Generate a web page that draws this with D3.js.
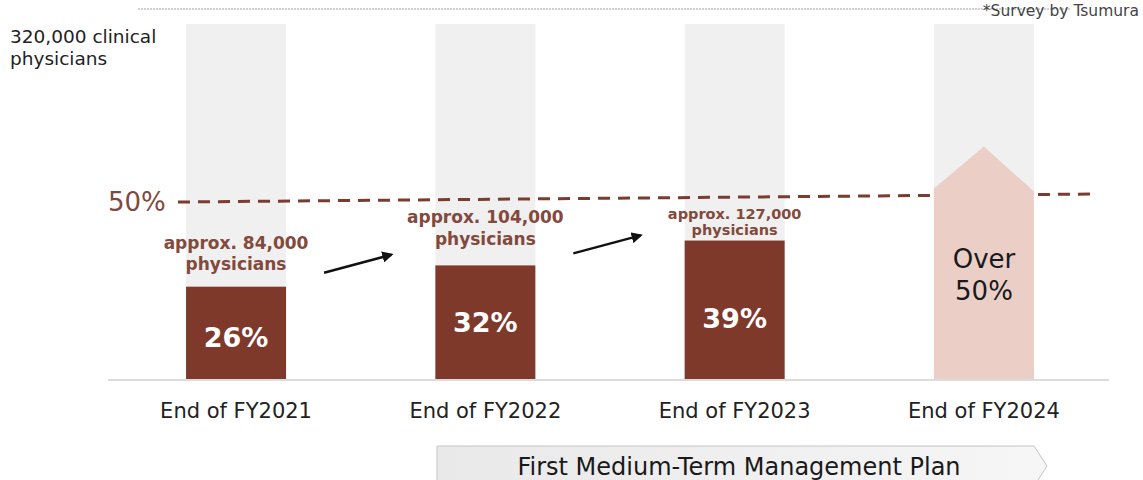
<!DOCTYPE html>
<html>
<head>
<meta charset="utf-8">
<script src="https://cdn.jsdelivr.net/npm/d3@7/dist/d3.min.js"></script>
<style>
  html, body { margin: 0; padding: 0; background: #fff; }
  svg { display: block; font-family: "DejaVu Sans", Verdana, sans-serif; }
</style>
</head>
<body>
<svg id="chart" width="1143" height="480"></svg>
<script>
// Share of clinical physicians prescribing Kampo, by fiscal year end
const categories = ["End of FY2021", "End of FY2022", "End of FY2023", "End of FY2024"];
const sharePct = [26, 32, 39];            // achieved share (%)
const targetPct = 50;                     // FY2024 target ("Over 50%")
const physicianCounts = ["approx. 84,000", "approx. 104,000", "approx. 127,000"];
const totalLabel = ["320,000 clinical", "physicians"];
const targetLabel = ["Over", "50%"];
const planLabel = "First Medium-Term Management Plan";
const sourceNote = "*Survey by Tsumura";

// styling
const DARK = "#7e392b";
const BROWN_TEXT = "#83493c";
const PINK = "#ebcfc7";
const BG_BAR = "#f0f0f0";
const countFont = [17, 17, 14.5];
const countLineGap = [21, 22, 16];
const countLift = [17, 20, 6];
const pctNudge = [4, 0, 8];

const svg = d3.select("#chart");

const x = d3.scalePoint().domain(categories).range([111.4, 1108.6]).padding(0.5);
const y = d3.scaleLinear().domain([0, 100]).range([379, 24]);
const barW = 100;

// source rule + note
svg.append("line")
  .attr("x1", 138).attr("x2", 1070).attr("y1", 9).attr("y2", 9)
  .attr("stroke", "#a0a0a0").attr("stroke-width", 1).attr("stroke-dasharray", "2,1");
svg.append("text")
  .attr("x", 1139).attr("y", 16).attr("text-anchor", "end")
  .attr("font-size", 15.5).attr("fill", "#444").text(sourceNote);

// total population label
svg.append("text").attr("x", 10).attr("y", 43).attr("font-size", 18.5).attr("fill", "#222")
  .selectAll("tspan").data(totalLabel).join("tspan")
  .attr("x", 10).attr("dy", (d, i) => i ? 22 : 0).text(d => d);

// 100% background columns
svg.append("g").selectAll("rect").data(categories).join("rect")
  .attr("x", d => x(d) - barW / 2).attr("width", barW)
  .attr("y", y(100)).attr("height", y(0) - y(100))
  .attr("fill", BG_BAR);

// baseline
svg.append("line")
  .attr("x1", 108).attr("x2", 1109).attr("y1", y(0) + 1).attr("y2", y(0) + 1)
  .attr("stroke", "#dcdcdc").attr("stroke-width", 2);

// 50% target line
svg.append("line")
  .attr("x1", 178).attr("x2", 1094)
  .attr("y1", y(targetPct) + 0.5).attr("y2", y(targetPct) - 7.5)
  .attr("stroke", "#7b3c2f").attr("stroke-width", 3).attr("stroke-dasharray", "12,8");
svg.append("text")
  .attr("x", 108).attr("y", y(targetPct) + 9)
  .attr("font-size", 26).attr("fill", "#7f4a3e").text(targetPct + "%");

// achieved bars
const gBars = svg.append("g");
gBars.selectAll("rect").data(sharePct).join("rect")
  .attr("x", (d, i) => x(categories[i]) - barW / 2).attr("width", barW)
  .attr("y", d => y(d)).attr("height", d => y(0) - y(d))
  .attr("fill", DARK);

gBars.selectAll("text.pct").data(sharePct).join("text").attr("class", "pct")
  .attr("x", (d, i) => x(categories[i]))
  .attr("y", (d, i) => (y(d) + y(0)) / 2 + pctNudge[i] + 10)
  .attr("text-anchor", "middle").attr("font-size", 27).attr("font-weight", "bold")
  .attr("fill", "#fff").text(d => d + "%");

// physician count annotations
sharePct.forEach((v, i) => {
  const cx = x(categories[i]);
  const base = y(v) - countLift[i];
  const t = svg.append("text").attr("text-anchor", "middle")
    .attr("font-size", countFont[i]).attr("font-weight", "bold").attr("fill", BROWN_TEXT);
  t.append("tspan").attr("x", cx).attr("y", base - countLineGap[i]).text(physicianCounts[i]);
  t.append("tspan").attr("x", cx).attr("y", base).text("physicians");
});

// growth arrows between years
svg.append("defs").append("marker")
  .attr("id", "head").attr("viewBox", "0 0 10 10").attr("refX", 8).attr("refY", 5)
  .attr("markerWidth", 4.5).attr("markerHeight", 4.5).attr("orient", "auto")
  .append("path").attr("d", "M0,0 L10,5 L0,10 z").attr("fill", "#111");
sharePct.slice(0, -1).forEach((v, i) => {
  const x0 = x(categories[i]) + 88, x1 = x(categories[i + 1]) - 94;
  const y0 = y(v) - 14 + (i ? 2 : 0);
  svg.append("line")
    .attr("x1", x0).attr("y1", y0).attr("x2", x1).attr("y2", y0 - 18)
    .attr("stroke", "#111").attr("stroke-width", 2.5).attr("marker-end", "url(#head)");
});

// FY2024 target arrow column
const tx = x(categories[3]);
const ty = y(targetPct);
svg.append("path")
  .attr("d", d3.line()([
    [tx - barW / 2, y(0)], [tx - barW / 2, ty - 13], [tx, ty - 55],
    [tx + barW / 2, ty - 10], [tx + barW / 2, y(0)]
  ]) + "Z")
  .attr("fill", PINK);
svg.append("text").attr("text-anchor", "middle").attr("font-size", 26).attr("fill", "#1a1a1a")
  .selectAll("tspan").data(targetLabel).join("tspan")
  .attr("x", tx).attr("y", (d, i) => 268 + i * 32).text(d => d);

// category axis labels
svg.append("g").selectAll("text").data(categories).join("text")
  .attr("x", d => x(d)).attr("y", 418).attr("text-anchor", "middle")
  .attr("font-size", 21).attr("fill", "#222").text(d => d);

// medium-term plan banner
const grad = svg.select("defs").append("linearGradient").attr("id", "plan")
  .attr("x1", "0").attr("x2", "1").attr("y1", "0").attr("y2", "0");
grad.append("stop").attr("offset", "0").attr("stop-color", "#e9e9e9");
grad.append("stop").attr("offset", "1").attr("stop-color", "#f6f6f6");
svg.append("path")
  .attr("d", "M437,446 L1034,446 L1047,466 L1034,486 L437,486 Z")
  .attr("fill", "url(#plan)").attr("stroke", "#c4c4c4").attr("stroke-width", 1);
svg.append("text")
  .attr("x", 739).attr("y", 475).attr("text-anchor", "middle")
  .attr("font-size", 24).attr("fill", "#1a1a1a").text(planLabel);
</script>
</body>
</html>
